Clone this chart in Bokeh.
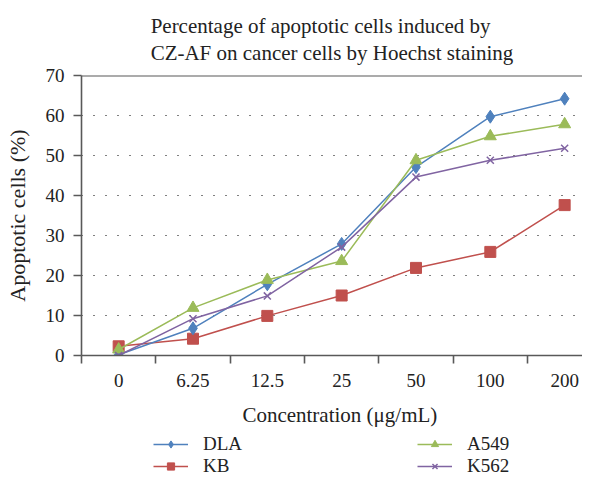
from bokeh.plotting import figure
from bokeh.layouts import column
from bokeh.models import (Range1d, FixedTicker, Span, Legend, LegendItem, Title)
from bokeh.embed import file_html
from bokeh.resources import INLINE

categories = ["0", "6.25", "12.5", "25", "50", "100", "200"]
dla = [0.2, 6.8, 17.8, 27.9, 47.1, 59.7, 64.2]
kb = [2.3, 4.2, 9.9, 15.0, 21.9, 25.9, 37.6]
a549 = [1.5, 11.9, 18.9, 23.6, 48.8, 54.8, 57.8]
k562 = [0.0, 9.2, 14.9, 27.1, 44.6, 48.8, 51.8]
y_ticks = [0, 10, 20, 30, 40, 50, 60, 70]

FONT = "Liberation Serif"
AX = "#595959"
TXT = "#222222"
xs = list(range(len(categories)))

series = [
    ("DLA", dla, "#4F81BD", "diamond", 13),
    ("KB", kb, "#C0504D", "square", 11),
    ("A549", a549, "#9BBB59", "triangle", 12),
    ("K562", k562, "#8064A2", "x", 10),
]

main = figure(frame_width=501, frame_height=280, output_backend="svg", toolbar_location=None,
              x_range=Range1d(-0.5, -0.5 + 501 / 74.33), y_range=Range1d(0, 70),
              min_border_left=81, min_border_right=0, min_border_top=75,
              min_border_bottom=78)
main.outline_line_color = None
main.xgrid.visible = False

title = Title(text="Percentage of apoptotic cells induced by\nCZ-AF on cancer cells by Hoechst staining",
              align="center", offset=-10, text_font=FONT, text_font_size="21px",
              text_font_style="normal", text_color=TXT, text_line_height=1.15,
              standoff=20)
main.add_layout(title, "above")

main.ygrid.ticker = FixedTicker(ticks=[10, 20, 30, 40, 50, 60])
main.ygrid.grid_line_color = "black"
main.ygrid.grid_line_dash = "1 11"
main.ygrid.grid_line_width = 1.2

ya = main.yaxis[0]
ya.ticker = FixedTicker(ticks=y_ticks)
ya.axis_line_color = AX
ya.axis_line_width = 1.6
ya.major_tick_line_color = AX
ya.major_tick_line_width = 1.6
ya.major_tick_out = 8
ya.major_tick_in = 0
ya.minor_tick_line_color = None
ya.major_label_standoff = 9
ya.major_label_text_font = FONT
ya.major_label_text_font_size = "19px"
ya.major_label_text_color = TXT
ya.axis_label = "Apoptotic cells (%)"
ya.axis_label_text_font = FONT
ya.axis_label_text_font_style = "normal"
ya.axis_label_text_font_size = "22px"
ya.axis_label_text_color = TXT
ya.axis_label_standoff = 13

xa = main.xaxis[0]
xa.ticker = FixedTicker(ticks=xs, minor_ticks=[i - 0.5 for i in range(len(categories) + 1)])
xa.major_label_overrides = {i: c for i, c in enumerate(categories)}
xa.axis_line_color = AX
xa.axis_line_width = 1.6
xa.major_tick_line_color = None
xa.minor_tick_line_color = AX
xa.minor_tick_line_width = 1.6
xa.minor_tick_out = 8
xa.minor_tick_in = 0
xa.major_label_standoff = 10
xa.major_label_text_font = FONT
xa.major_label_text_font_size = "19px"
xa.major_label_text_color = TXT
xa.axis_label = "\u00a0" * 3 + "Concentration (\u03bcg/mL)"
xa.axis_label_text_font = FONT
xa.axis_label_text_font_style = "normal"
xa.axis_label_text_font_size = "21px"
xa.axis_label_text_color = TXT
xa.axis_label_standoff = 13

main.add_layout(Span(location=70, dimension="width", line_color=AX, line_width=2))

# legend strip below the chart (its renderers use the same series, kept out of view)
lf = figure(width=582, height=44, output_backend="svg", toolbar_location=None,
            x_range=Range1d(-0.5, -0.5 + 582 / 74.33), y_range=Range1d(1000, 1001),
            x_axis_type=None, y_axis_type=None, min_border=0)
lf.outline_line_color = None
lf.grid.visible = False

lookup = {}
for name, vals, col, mk, sz in [series[1], series[0], series[2], series[3]]:
    for fig in (main, lf):
        lr = fig.line(xs, vals, line_color=col, line_width=1.5)
        if mk == "x":
            sr = fig.scatter(xs, vals, marker=mk, size=sz, line_color=col, line_width=1.5)
        else:
            sr = fig.scatter(xs, vals, marker=mk, size=sz, fill_color=col, line_color=col)
        if fig is lf:
            lookup[name] = [lr, sr]

leg = Legend(items=[LegendItem(label=n, renderers=lookup[n]) for n in ["DLA", "A549", "KB", "K562"]],
             location=(72, 0), orientation="horizontal", ncols=2)
leg.label_text_font = FONT
leg.label_text_font_size = "19px"
leg.label_text_color = TXT
leg.glyph_width = 35
leg.glyph_height = 18
leg.label_height = 18
leg.label_width = 214
leg.label_standoff = 15
leg.spacing = 0
leg.padding = 0
leg.margin = 0
leg.border_line_color = None
leg.background_fill_alpha = 0
lf.add_layout(leg)

p = column(main, lf, spacing=0)

open("out.html", "w").write(file_html(p, INLINE))
